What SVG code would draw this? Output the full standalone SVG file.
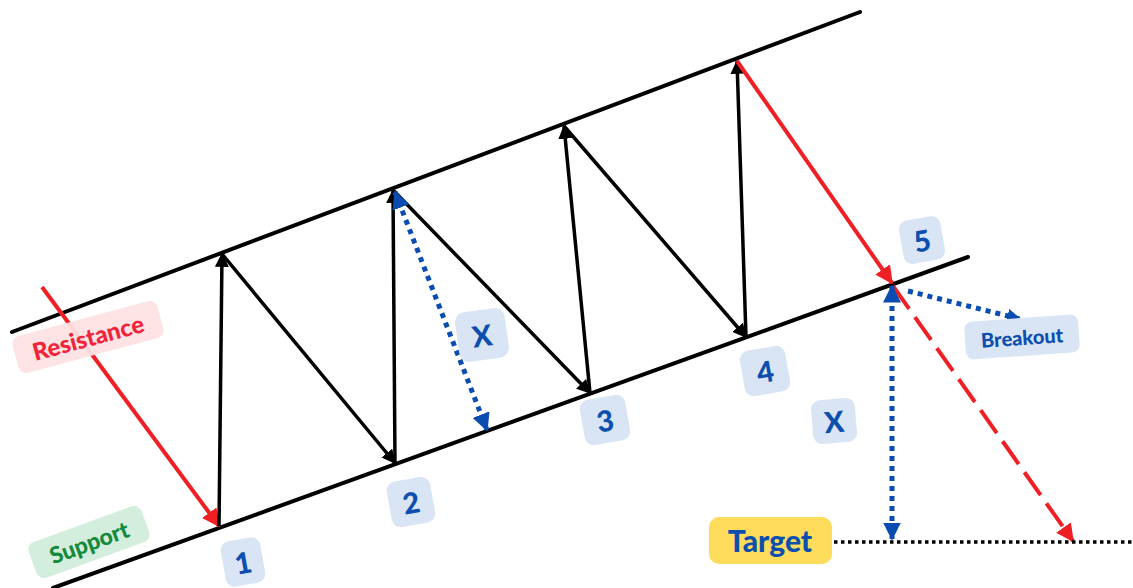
<svg xmlns="http://www.w3.org/2000/svg" width="1133" height="588" viewBox="0 0 1133 588">
<style>
.ch{stroke:#000;stroke-width:4;fill:none;stroke-linecap:round}
.zz{stroke:#000;stroke-width:3.5;fill:none}
.rd{stroke:#ef1f24;stroke-width:4;fill:none}
.bd{stroke:#0a4cb0;stroke-width:5;fill:none;stroke-dasharray:5 5}
.lbl{font-family:Lato,"Noto Sans",sans-serif;font-weight:900;text-anchor:middle;dominant-baseline:central}
.nb{fill:#d9e5f5}
.nt{fill:#0d4fae;font-size:29px}
</style>
<defs>
<marker id="ab" viewBox="0 0 12 12" refX="11" refY="6" markerWidth="14" markerHeight="14" markerUnits="userSpaceOnUse" orient="auto"><path d="M0,0 L12,6 L0,12 z" fill="#000"/></marker>
<marker id="ar" viewBox="0 0 12 12" refX="11" refY="6" markerWidth="18" markerHeight="18" markerUnits="userSpaceOnUse" orient="auto"><path d="M0,0 L12,6 L0,12 z" fill="#ef1f24"/></marker>
<marker id="abl" viewBox="0 0 12 12" refX="11" refY="6" markerWidth="18" markerHeight="18" markerUnits="userSpaceOnUse" orient="auto-start-reverse"><path d="M0,0 L12,6 L0,12 z" fill="#0a4cb0"/></marker>
<marker id="abs" viewBox="0 0 12 12" refX="11" refY="6" markerWidth="14" markerHeight="14" markerUnits="userSpaceOnUse" orient="auto"><path d="M0,0 L12,6 L0,12 z" fill="#0a4cb0"/></marker>
</defs>
<rect width="1133" height="588" fill="#fff"/>
<g id="channel">
<line class="ch" x1="12" y1="332" x2="860" y2="12"/>
<line class="ch" x1="53" y1="588" x2="968" y2="257"/>
</g>
<g id="connectors">
<line class="rd" x1="42" y1="287" x2="219" y2="526" marker-end="url(#ar)"/>
<line class="zz" x1="219" y1="526" x2="222" y2="254" marker-end="url(#ab)"/>
<line class="zz" x1="222" y1="254" x2="395" y2="463" marker-end="url(#ab)"/>
<line class="zz" x1="395" y1="463" x2="393" y2="190" marker-end="url(#ab)"/>
<line class="zz" x1="393" y1="190" x2="590" y2="393" marker-end="url(#ab)"/>
<line class="zz" x1="590" y1="393" x2="564" y2="126" marker-end="url(#ab)"/>
<line class="zz" x1="564" y1="126" x2="746" y2="337" marker-end="url(#ab)"/>
<line class="zz" x1="746" y1="337" x2="737" y2="61" marker-end="url(#ab)"/>
<line class="rd" x1="737" y1="61" x2="892" y2="283" marker-end="url(#ar)"/>
<line class="rd" x1="893" y1="286" x2="1073" y2="541" stroke-dasharray="28 10" marker-end="url(#ar)"/>
<line class="bd" x1="395" y1="192" x2="487" y2="430" marker-start="url(#abl)" marker-end="url(#abl)"/>
<line class="bd" x1="892" y1="286" x2="892" y2="539" marker-start="url(#abl)" marker-end="url(#abl)"/>
<line class="bd" x1="908" y1="291" x2="1020" y2="319" stroke-width="3.5" stroke-dasharray="4 4" marker-end="url(#abs)"/>
<line x1="834" y1="542" x2="1133" y2="542" stroke="#000" stroke-width="3.5" stroke-dasharray="3.5 3.5"/>
</g>
<g id="resistance" transform="translate(88,337) rotate(-15)">
<rect x="-75" y="-19" width="150" height="38" rx="8" fill="#fde2e2" fill-opacity="0.95"/>
<text class="lbl" fill="#f0243a" font-size="24">Resistance</text>
</g>
<g id="support" transform="translate(89,542) rotate(-20)">
<rect x="-60" y="-19" width="120" height="38" rx="8" fill="#d3eedc"/>
<text class="lbl" fill="#168a3c" font-size="23">Support</text>
</g>
<g id="n1" transform="translate(243,562) rotate(-10)"><rect class="nb" x="-20" y="-23" width="40" height="46" rx="9"/><text class="lbl nt">1</text></g>
<g id="n2" transform="translate(411,502) rotate(-10)"><rect class="nb" x="-22" y="-23" width="44" height="46" rx="9"/><text class="lbl nt">2</text></g>
<g id="n3" transform="translate(605,420) rotate(-10)"><rect class="nb" x="-23" y="-23" width="46" height="46" rx="9"/><text class="lbl nt">3</text></g>
<g id="n4" transform="translate(765,371) rotate(-10)"><rect class="nb" x="-23" y="-23" width="46" height="46" rx="9"/><text class="lbl nt">4</text></g>
<g id="n5" transform="translate(922,240) rotate(-10)"><rect class="nb" x="-21" y="-22" width="42" height="44" rx="9"/><text class="lbl nt">5</text></g>
<g id="x1" transform="translate(482,335) rotate(-8)"><rect class="nb" x="-25" y="-25" width="50" height="50" rx="10"/><text class="lbl nt">X</text></g>
<g id="x2" transform="translate(834,421) rotate(-5)"><rect class="nb" x="-22" y="-22" width="44" height="44" rx="9"/><text class="lbl nt">X</text></g>
<g id="breakout" transform="translate(1022,337) rotate(-4)">
<rect x="-57" y="-19" width="114" height="38" rx="8" fill="#d9e5f5"/>
<text class="lbl" fill="#0d4fae" font-size="20">Breakout</text>
</g>
<g id="target">
<rect x="709" y="517" width="123" height="47" rx="10" fill="#fddc5c"/>
<text class="lbl" x="770" y="540" fill="#0d4fae" font-size="30">Target</text>
</g>
</svg>
